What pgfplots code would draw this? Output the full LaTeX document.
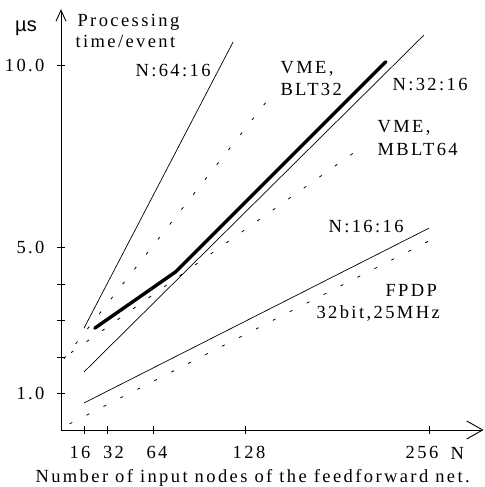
\documentclass[border=0pt]{standalone}
\usepackage{fontspec}
\setmainfont[LetterSpace=13]{Liberation Serif}
\newfontfamily\sansf{Liberation Sans}
\usepackage{pgfplots}
\pgfplotsset{compat=1.18}
\usetikzlibrary{arrows.meta}

\newcommand\lblfont{\fontsize{18.5bp}{22bp}\selectfont}

\begin{document}
\begin{tikzpicture}[font=\lblfont]
\useasboundingbox (-61bp,-57bp) rectangle (424bp,430bp);
\begin{axis}[
  at={(0,0)}, anchor=south west,
  x=1.4375bp, y=36.5bp,
  xmin=0, xmax=294, ymin=0, ymax=11.53,
  axis lines=left,
  axis line style={line width=0.9bp},
  x axis line style={-{Straight Barb[length=16bp,width=18bp]}},
  y axis line style={-{Straight Barb[length=11bp,width=10bp]}},
  xtick={16,32,64,128,256}, xticklabels={},
  ytick={1,2,3,4,5,10}, yticklabels={1.0,,,,5.0,10.0},
  tick align=center, major tick length=8bp,
  tick style={line width=0.8bp, black},
  yticklabel style={anchor=east, xshift=-9bp, font=\lblfont},
  clip=false,
  dots/.style={black, line width=0.8bp, dash pattern=on 3bp off 16bp},
]
% N:64:16, N:32:16, N:16:16
\addplot[black, line width=0.7bp] coordinates {(16,2.79) (119.7,10.63)};
\addplot[black, line width=0.7bp] coordinates {(16,1.59) (252.5,10.82)};
\addplot[black, line width=0.7bp] coordinates {(16,0.74) (256,5.53)};
% measured curve
\addplot[black, line width=3.4bp, line cap=round, line join=round]
  coordinates {(23.5,2.79) (80,4.34) (226,10.09)};
% VME BLT32, VME MBLT64, FPDP
\addplot[dots] coordinates {(2,1.95) (146,9.15)};
\addplot[dots] coordinates {(7,2.12) (206,7.66)};
\addplot[dots] coordinates {(6,0.17) (256,5.18)};
\end{axis}

% x tick labels
\foreach \xx/\lab in {19/16, 52.5/32, 96/64, 188/128, 361/256}
  \node[anchor=base] at (\xx bp,-28bp) {\lab};

\node at (-35bp,402bp) {\sansf\fontsize{20bp}{20bp}\selectfont µs};
\node[anchor=base west] at (13bp,403bp) {Processing};
\node[anchor=base west] at (11bp,382bp) {time/event};
\node[anchor=base west] at (71bp,353bp) {N:64:16};
\node[anchor=base west] at (216bp,356bp) {VME,};
\node[anchor=base west] at (216bp,334bp) {BLT32};
\node[anchor=base west] at (328bp,339bp) {N:32:16};
\node[anchor=base west] at (313bp,297bp) {VME,};
\node[anchor=base west] at (313bp,274bp) {MBLT64};
\node[anchor=base west] at (264bp,197bp) {N:16:16};
\node[anchor=base west] at (321bp,133bp) {FPDP};
\node[anchor=base west] at (252bp,111bp) {32bit,25MHz};
\node[anchor=base west] at (386bp,-29bp) {N};
\node[anchor=base west] at (-29bp,-52bp) {Number of input nodes of the feedforward net.};
\end{tikzpicture}
\end{document}
